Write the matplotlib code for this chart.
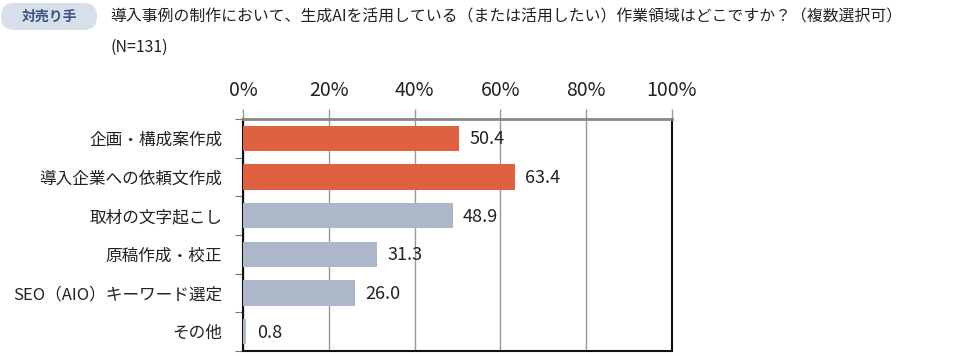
import matplotlib
matplotlib.use('Agg')
import matplotlib.pyplot as plt
from matplotlib.patches import FancyBboxPatch

plt.rcParams['font.family'] = ['Noto Sans CJK JP', 'DejaVu Sans']

categories = ['企画・構成案作成', '導入企業への依頼文作成', '取材の文字起こし',
              '原稿作成・校正', 'SEO（AIO）キーワード選定', 'その他']
values = [50.4, 63.4, 48.9, 31.3, 26.0, 0.8]
highlight = [True, True, False, False, False, False]
xticks = [0, 20, 40, 60, 80, 100]
xtick_labels = ['0%', '20%', '40%', '60%', '80%', '100%']

badge_text = '対売り手'
title = '導入事例の制作において、生成AIを活用している（または活用したい）作業領域はどこですか？（複数選択可）'
subtitle = '(N=131)'

orange = '#DF6140'
grey = '#ADB7CA'
text_col = '#222222'

fig = plt.figure(figsize=(9.6, 3.56), dpi=100)
W, H = 960, 356

# header drawn on a pixel-coordinate overlay
bg = fig.add_axes([0, 0, 1, 1])
bg.set_xlim(0, W)
bg.set_ylim(H, 0)
bg.axis('off')
bg.add_patch(FancyBboxPatch((1, 3), 96, 27, boxstyle='round,pad=0,rounding_size=13.5',
                            facecolor='#D7DFEB', edgecolor='none'))
bg.text(49, 17, badge_text, ha='center', va='center', fontsize=10,
        fontweight='bold', color='#3B5282')
bg.text(110, 17, title, ha='left', va='center', fontsize=11.4, color=text_col)
bg.text(110, 47, subtitle, ha='left', va='center', fontsize=11.4, color=text_col)

# chart area: x 243..672, y 119..351 (pixels from top)
ax = fig.add_axes([243 / W, 1 - 351 / H, (672 - 243) / W, (351 - 119) / H])

y = list(range(len(categories)))
colors = [orange if h else grey for h in highlight]
ax.barh(y, values, height=0.65, color=colors, zorder=3)
for yi, v in zip(y, values):
    ax.text(v + 2.4, yi + 0.03, f'{v:.1f}', va='center', ha='left', fontsize=13,
            color=text_col, zorder=4)

ax.set_xlim(0, 100)
ax.set_ylim(len(categories) - 0.5, -0.5)
ax.set_xticks(xticks)
ax.set_xticklabels(xtick_labels, fontsize=14, color=text_col)
ax.xaxis.tick_top()
ax.tick_params(axis='x', length=7, width=1, color='#999999', pad=6)
ax.grid(axis='x', color='#999999', linewidth=1, zorder=0)

ax.set_yticks(y)
ax.set_yticklabels(categories, fontsize=12, color=text_col)
ax.tick_params(axis='y', length=0, pad=15)
# small boundary ticks on the left spine
ax.set_yticks([i - 0.5 for i in range(len(categories) + 1)], minor=True)
ax.tick_params(axis='y', which='minor', length=6, width=0.8, color='#777777')

ax.spines['top'].set_color('#888888')
ax.spines['top'].set_linewidth(2)
for s in ['left', 'bottom', 'right']:
    ax.spines[s].set_color('#111111')
    ax.spines[s].set_linewidth(1.5)

fig.savefig('out.png', dpi=100)
